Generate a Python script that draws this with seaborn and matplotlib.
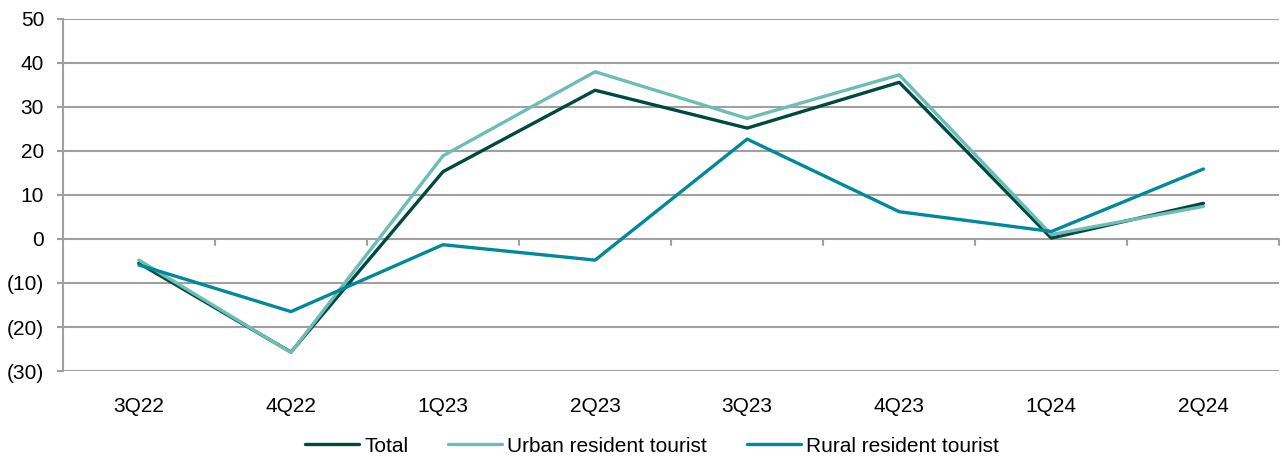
import numpy as np
import pandas as pd
import matplotlib
matplotlib.use("Agg")
import matplotlib.pyplot as plt
import seaborn as sns
from matplotlib.ticker import FuncFormatter

quarters = ["3Q22", "4Q22", "1Q23", "2Q23", "3Q23", "4Q23", "1Q24", "2Q24"]
total = [-5.5, -25.7, 15.3, 33.8, 25.2, 35.6, 0.2, 8.1]
urban = [-4.8, -25.8, 18.9, 38.0, 27.4, 37.3, 1.0, 7.4]
rural = [-5.9, -16.5, -1.3, -4.8, 22.7, 6.2, 1.7, 15.9]

series_names = ["Total", "Urban resident tourist", "Rural resident tourist"]
palette = ["#00493f", "#6dbdb7", "#00899a"]

df = pd.DataFrame({"Quarter": quarters, series_names[0]: total,
                   series_names[1]: urban, series_names[2]: rural})
long = df.melt(id_vars="Quarter", var_name="Series", value_name="Value")
long["x"] = long["Quarter"].map({q: i for i, q in enumerate(quarters)})

sns.set_theme(style="white")
plt.rcParams["font.family"] = ["Liberation Sans", "DejaVu Sans"]
plt.rcParams["text.color"] = "#000000"

FS = 15
fig = plt.figure(figsize=(12.82, 4.59), dpi=100)
ax = fig.add_axes([0.049, 0.1917, 0.949, 0.767])

grid_color = "#a0a0a0"
for v in range(-30, 51, 10):
    ax.axhline(v, color=grid_color, lw=1.5, zorder=0)

sns.lineplot(data=long, x="x", y="Value", hue="Series", hue_order=series_names,
             palette=palette, linewidth=2.4, ax=ax, sort=False, legend=True)

ax.set_xlim(-0.5, len(quarters) - 0.5)
ax.set_ylim(-30, 50)
ax.set_yticks(range(-30, 51, 10))
ax.yaxis.set_major_formatter(FuncFormatter(lambda v, p: f"({abs(int(v))})" if v < 0 else f"{int(v)}"))
ax.set_xticks(range(len(quarters)))
ax.set_xticklabels(quarters)
ax.set_xlabel("")
ax.set_ylabel("")

for s in ["top", "right", "bottom"]:
    ax.spines[s].set_visible(False)
ax.spines["left"].set_color(grid_color)
ax.spines["left"].set_linewidth(1.5)

ax.tick_params(axis="y", left=True, length=4.5, width=1.5, color=grid_color,
               labelsize=FS, labelcolor="#000000", pad=9)
ax.tick_params(axis="x", bottom=False, labelsize=FS, labelcolor="#000000", pad=13)

# category boundary ticks hanging below the zero line
for b in np.arange(0.5, len(quarters), 1.0):
    ax.plot([b, b], [0, -1.4], color=grid_color, lw=1.5, zorder=1, clip_on=False)

handles, labels = ax.get_legend_handles_labels()
ax.legend(handles, labels, loc="center", bbox_to_anchor=(0.5086, 0.028),
          bbox_transform=fig.transFigure, ncol=3, frameon=False, fontsize=FS,
          handlelength=2.6, handletextpad=0.25, columnspacing=1.9,
          borderpad=0, borderaxespad=0, labelcolor="#000000")

fig.savefig("out.png", dpi=100)
